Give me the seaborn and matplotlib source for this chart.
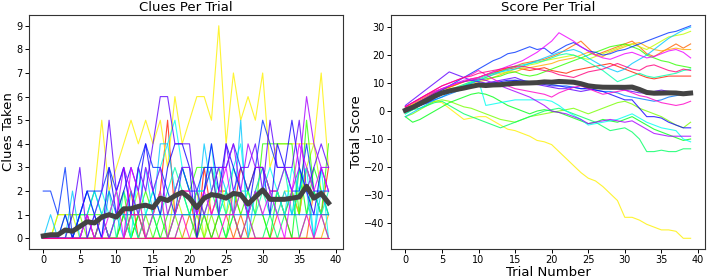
import numpy as np
import pandas as pd
import matplotlib
matplotlib.use("Agg")
import matplotlib.pyplot as plt
import seaborn as sns

# trial index shared by both panels
trials = list(range(40))

# clues taken per trial, one list per participant
clues_01 = [0,0,0,0,0,0,0,0,1,0, 0,1,2,0,1,1,2,5,1,2, 2,0,3,1,2,2,1,3,2,3, 3,2,2,1,2,1,3,2,1,3]
clues_02 = [0,0,0,0,0,0,1,0,0,0, 0,0,1,1,0,0,0,0,0,0, 1,0,1,0,1,1,0,1,0,0, 0,0,1,1,0,0,0,2,1,1]
clues_03 = [0,0,0,0,0,0,0,0,0,0, 0,0,0,0,0,0,0,0,0,0, 0,0,0,0,0,0,0,0,0,0, 0,0,0,0,0,0,0,0,0,1]
clues_04 = [0,0,1,1,1,1,1,2,5,2, 3,4,5,4,5,4,5,3,6,4, 5,6,6,5,9,4,7,5,6,5, 7,3,4,4,4,4,4,4,7,3]
clues_05 = [0,0,1,1,1,0,1,0,1,1, 2,1,1,2,0,1,2,0,2,1, 1,2,0,2,3,1,2,1,1,2, 3,2,1,2,2,1,3,4,2,1]
clues_06 = [0,0,0,0,0,1,0,0,0,0, 0,1,0,1,1,0,0,0,1,0, 0,1,0,1,0,0,1,0,0,1, 1,0,0,0,0,0,0,0,0,0]
clues_07 = [0,0,0,0,1,1,1,1,1,0, 1,2,0,1,2,1,0,1,2,3, 2,3,3,3,1,0,2,1,2,1, 4,4,4,4,4,1,5,2,1,4]
clues_08 = [0,0,0,0,0,0,0,0,1,0, 0,1,0,1,0,0,1,0,1,2, 1,2,1,0,1,2,1,0,1,2, 1,0,2,1,0,3,1,3,2,1]
clues_09 = [0,0,0,0,0,0,0,0,0,0, 0,0,1,0,0,1,0,0,0,1, 1,0,1,2,1,0,1,2,1,0, 0,1,0,1,2,0,1,2,1,0]
clues_10 = [0,0,0,1,0,1,1,2,1,2, 0,2,1,0,1,2,1,2,3,2, 1,2,2,3,2,1,3,2,2,1, 2,1,2,3,1,2,3,2,1,2]
clues_11 = [0,0,0,0,0,1,2,1,2,1, 2,1,0,3,1,2,3,4,5,3, 3,2,2,4,1,2,3,4,1,2, 2,3,2,1,3,2,3,0,3,0]
clues_12 = [0,1,0,0,2,0,1,2,1,0, 1,0,2,1,3,1,4,4,2,3, 2,1,4,2,3,2,1,5,0,2, 3,2,1,2,1,3,2,0,2,1]
clues_13 = [0,0,0,0,0,0,0,1,0,2, 1,1,1,1,1,1,1,1,1,1, 1,1,1,1,1,1,1,1,1,1, 1,1,1,1,1,1,1,1,1,1]
clues_14 = [2,2,1,3,0,1,2,2,2,3, 2,3,1,3,4,3,3,2,1,3, 2,2,3,3,3,3,4,3,2,3, 5,4,3,3,2,2,4,2,2,2]
clues_15 = [0,0,0,1,0,1,2,1,0,3, 1,2,3,2,4,2,1,3,4,4, 3,0,2,4,2,4,3,2,1,3, 3,1,4,3,5,3,2,1,3,2]
clues_16 = [0,0,0,0,1,3,0,1,2,5, 2,3,1,3,2,4,6,6,4,4, 4,1,2,3,1,4,2,3,3,4, 2,5,3,3,3,5,2,3,4,3]
clues_17 = [0,0,0,0,0,0,1,0,1,0, 1,3,2,1,3,2,3,1,2,3, 3,2,1,2,3,3,4,2,4,3, 3,2,2,3,2,3,6,4,3,3]
clues_18 = [0,0,0,0,0,0,1,0,0,1, 2,0,3,2,0,1,2,0,1,2, 2,1,2,1,2,3,1,2,1,2, 1,2,1,0,2,4,3,2,3,2]
clues_19 = [0,0,0,0,0,0,0,0,0,0, 0,0,1,1,0,0,0,0,0,1, 0,0,0,0,0,1,1,0,1,0, 0,0,0,0,0,0,1,0,1,0]
clues_20 = [0,0,0,0,0,0,0,0,0,0, 0,0,0,0,0,0,0,0,0,0, 0,0,0,0,0,0,0,0,0,0, 0,0,0,0,0,0,0,0,0,0]

# running total score per trial, one list per participant
score_01 = [1,2,3.5,5,6.5,7.5,8.5,9.5,10.5,11.5, 12,13,13.5,14.5,15,15.5,15,14.5,15,15.5, 14.5,14,13.5,14.5,15,15.5,16,16.5,17,16, 15,14,13,12,11.5,12,12.5,12.5,12.5,12.5]
score_02 = [1,2.5,4,5.5,7,8,8.5,9.5,10.5,11, 12,13,14,14.5,15.5,16,17,17.5,18,18.5, 19.5,20.5,22,23.5,25,22.5,20,21,22,23, 24,25,23,20.5,19.5,21,22.5,24,22.5,24]
score_03 = [1,2,3,4,5,6,7,8,9,10, 10.5,11,12,13,14,14,15,15.5,16,16.5, 17,18,18.5,19,20,21,20,19.5,21,22, 23,24,24.5,23,22,21.5,22,22.5,22,22]
score_04 = [1.5,2.5,3,2.5,3.5,3,1,-1,-3,-2.5, -2,-2,-3.5,-5,-6.5,-7,-8,-9,-10.5,-11, -12,-14.5,-17,-19.5,-22,-24,-25,-27,-29.5,-32, -38,-38,-39,-40.5,-41.5,-42.5,-42.5,-43,-45.5,-45.5]
score_05 = [1,2,3,4.5,6,7,8,8.5,9.5,10.5, 11,12,13,13.5,14,15,15.5,16.5,17,18, 18.5,19,19.5,20,19,18.5,19.5,20.5,21.5,22.5, 23.5,24,23,22,23.5,25,26.5,27,27.5,28.5]
score_06 = [-2,-1,0.5,2,3.5,4,3.5,2.5,1.5,1, 0,-1,-2,-3,-3.5,-4,-3,-2,-1.5,-1, -0.5,0,0.5,1,0,-1,0,1,2,3, 3.5,2.5,1,0,-1,-2,-3.5,-5,-6,-4]
score_07 = [-1,0.5,2,3.5,5,6,7,8,9,10, 11,11.5,12,12.5,13.5,14,13,12.5,13,14, 15,16,17,18,19,20,21,22,23,23.5, 24,23,22,20,19,18,17.5,16.5,16,15.5]
score_08 = [-2,-4,-3,-1.5,0,1.5,3,4,5,6, 6.5,6,5,3.5,2,1,0,-1,0,0.5, 0,-0.5,-1.5,-2.5,-3.5,-4.5,-4,-3,-3.5,-4, -3,-2,-3.5,-5,-6.5,-7.5,-8.5,-9.5,-10.5,-10]
score_09 = [0,0.5,1,2,3,3.5,2,0.5,-1,-2, -3,-4,-5,-6,-5,-4,-3,-2,-1,0, 0.5,1,0,-1,-2,-3,-4,-5.5,-7,-6.5, -6,-7.5,-10,-14.5,-14.5,-14,-14.5,-14.5,-13.5,-13.5]
score_10 = [0,1,2.5,4,5.5,6.5,7.5,8.5,9.5,10.5, 11.5,12.5,13.5,14,15,16,16.5,17,17.5,18, 19,20,20.5,20,19,17.5,16,14.5,12.5,10.5, 11.5,12.5,13.5,12.5,12,12.5,13,13.5,14.5,15]
score_11 = [-1,0.5,2,3.5,5,6,7,8,9,10, 11,2,2.5,3,3.5,4,4,4,4,4, 3.5,2,0,-1.5,-3,-5,-4.5,-4,-3.5,-3, -2,-1,-2.5,-4,-5,-6,-6.5,-7,-10,-11]
score_12 = [-2,-0.5,1,2.5,4,5,6.5,8,9,10, 11,12,13,14,14.5,15,16,17,18,19, 20,21,21.5,22,21,19,17.5,16,15,14, 15,17,18.5,20,22,24,26,27.5,29,30]
score_13 = [0,1,2,3,4,5,6,7,8,8.5, 9,9.5,10,10,10.5,11,11,10.5,10,10, 9.5,9,9,8.5,8,8,7.5,7,7,6.5, 5.5,5,4.5,4,3.5,4,5,5.5,6,6.5]
score_14 = [0,1.5,3,4.5,6,7.5,9,10.5,12,13.5, 15,16.5,18,19,20.5,21,22,23,22,22.5, 20.5,22,23.5,24.5,23,21.5,21,20,20.5,21.5, 22,23,24,25,26,27,28,28.5,29.5,30.5]
score_15 = [0,1,2,3,4.5,6,7,8,8.5,9, 9,9.5,10,10.5,11,11,10.5,10,10,9.5, 9,9,8.5,8.5,8,8,7.5,7,6,5, 4,4,1,-2,-2,-2.5,-4,-5,-6,-6]
score_16 = [2,4,6,8,10,12,14,13,12,11, 10.5,10,10.5,11,11.5,12,11,10,9.5,9, 8.5,8,8,7.5,7,7.5,8,8.5,8,8, 7.5,7,6.5,6.5,7,7.5,7,6.5,6,6]
score_17 = [1,2,3.5,5,6.5,8,9,10,10.5,11, 11.5,11,10,9,8,7,6,5,3.5,2, 0,-0.5,-1,-2,-3,-4.5,-4,-3.5,-3,-3.5, -4,-3.5,-5,-6.5,-8,-8.5,-9,-9,-9,-9]
score_18 = [1.5,3,4.5,6,7,8,9,10,11,11.5, 12,13,14,15,16,17,18,19.5,21,23, 25,28,26.5,25,23,21.5,20,19,18.5,19.5, 20.5,21,20,19,19.5,20.5,21.5,22,21,19]
score_19 = [1.5,3,4.5,6,7.5,9,10,11,12,13, 14.5,13,11.5,10,9,8,7.5,7,6.5,6, 5,6.5,7.5,8.5,9,8,7,6,6.5,7, 7.5,6.5,5.5,5,4,3,2.5,2,2.5,3.5]
score_20 = [1.5,3,4.5,6,7.5,9,10,11,12,12.5, 13.5,14,14.5,15,15.5,16,16,15.5,15,14.5, 14,13,12.5,12,13,14,14.5,15,16,17, 16,15,14.5,16,16.5,15.5,14.5,14,15,14.5]

clues_lists = [clues_01, clues_02, clues_03, clues_04, clues_05, clues_06, clues_07,
               clues_08, clues_09, clues_10, clues_11, clues_12, clues_13, clues_14,
               clues_15, clues_16, clues_17, clues_18, clues_19, clues_20]
score_lists = [score_01, score_02, score_03, score_04, score_05, score_06, score_07,
               score_08, score_09, score_10, score_11, score_12, score_13, score_14,
               score_15, score_16, score_17, score_18, score_19, score_20]

rows = []
for i, (c, s) in enumerate(zip(clues_lists, score_lists)):
    for t in trials:
        rows.append({'subject': i, 'trial': t, 'clues': c[t], 'score': s[t]})
df = pd.DataFrame(rows)

# red -> yellow -> green -> cyan -> blue -> magenta
palette = sns.color_palette([plt.cm.hsv(x) for x in np.linspace(0.02, 0.93, len(clues_lists))])
mean_color = '#434343'

fig, axes = plt.subplots(1, 2, figsize=(7.07, 2.8), dpi=100)
plt.subplots_adjust(left=0.041, right=0.997, top=0.946, bottom=0.111, wspace=0.154)

for ax, col, title, ylabel in [(axes[0], 'clues', 'Clues Per Trial', 'Clues Taken'),
                               (axes[1], 'score', 'Score Per Trial', 'Total Score')]:
    sns.lineplot(data=df, x='trial', y=col, hue='subject', palette=palette,
                 estimator=None, units='subject', linewidth=0.8, alpha=0.8,
                 legend=False, ax=ax)
    # average across participants
    sns.lineplot(data=df, x='trial', y=col, estimator='mean', errorbar=None,
                 color=mean_color, linewidth=3.6, ax=ax)
    ax.set_title(title, fontsize=9.5, pad=3)
    ax.set_xlabel('Trial Number', fontsize=9.5, labelpad=0.5)
    ax.set_ylabel(ylabel, fontsize=9.5, labelpad=1)
    ax.tick_params(labelsize=7, length=3, width=0.7, pad=1.5)
    ax.set_xticks([0, 5, 10, 15, 20, 25, 30, 35, 40])
    for sp in ax.spines.values():
        sp.set_color('#333333')
        sp.set_linewidth(0.8)

axes[0].set_yticks(range(0, 10))
axes[1].set_yticks([-40, -30, -20, -10, 0, 10, 20, 30])

plt.savefig('out.png', dpi=100)
